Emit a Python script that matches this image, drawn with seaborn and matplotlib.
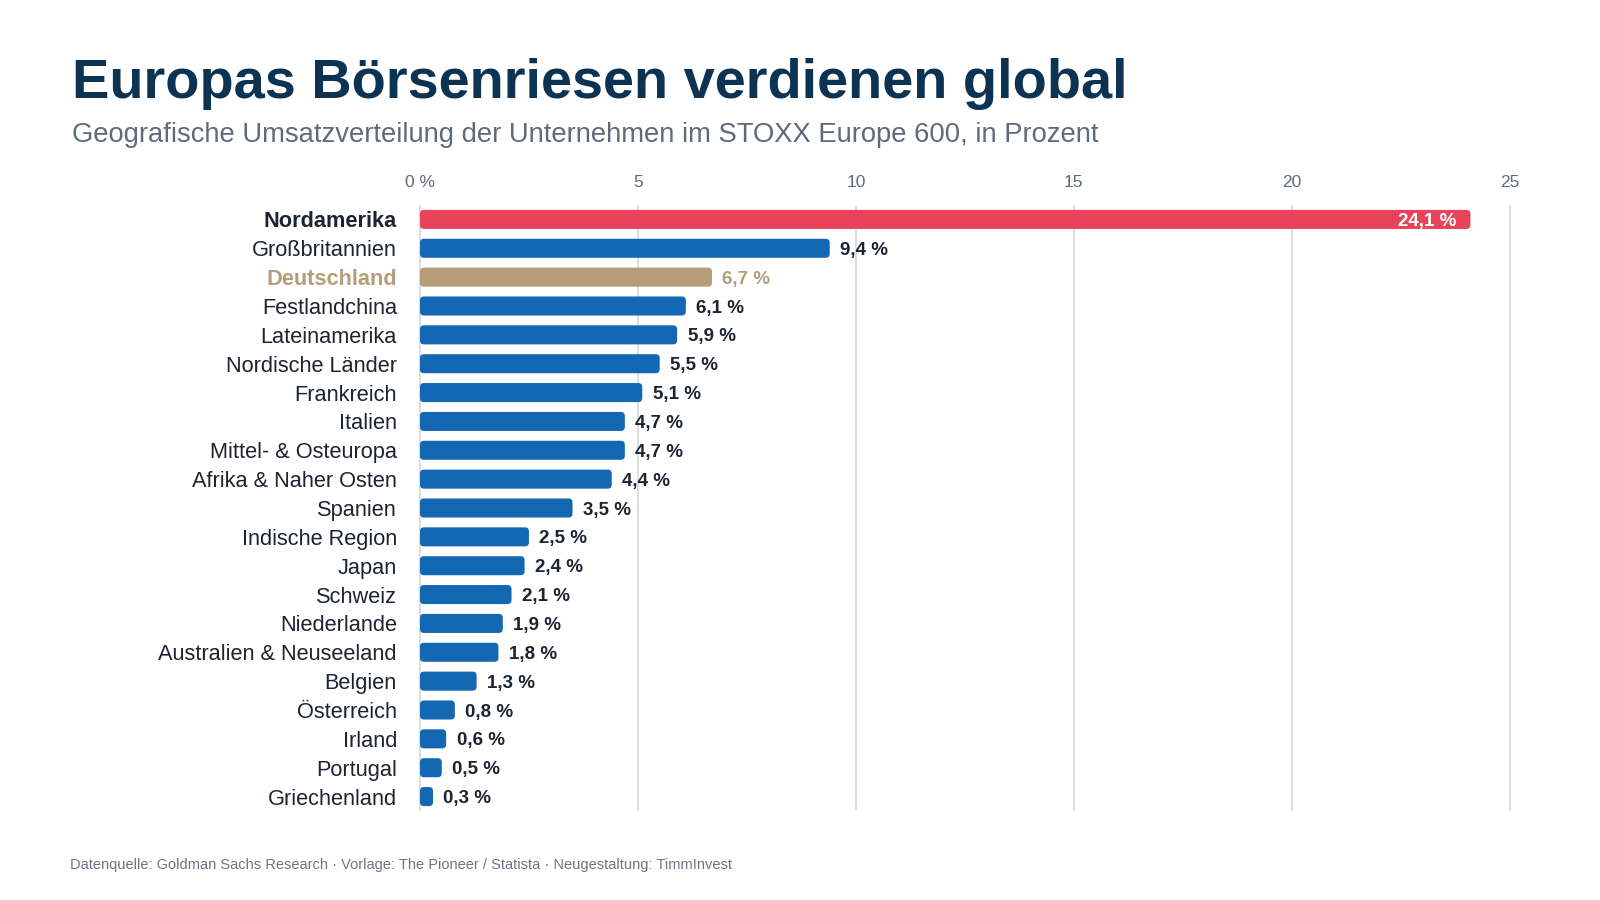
import matplotlib
matplotlib.use("Agg")
import matplotlib.pyplot as plt
from matplotlib.patches import FancyBboxPatch
import seaborn as sns
import pandas as pd

regions = ["Nordamerika", "Großbritannien", "Deutschland", "Festlandchina", "Lateinamerika",
           "Nordische Länder", "Frankreich", "Italien", "Mittel- & Osteuropa", "Afrika & Naher Osten",
           "Spanien", "Indische Region", "Japan", "Schweiz", "Niederlande",
           "Australien & Neuseeland", "Belgien", "Österreich", "Irland", "Portugal", "Griechenland"]
shares = [24.1, 9.4, 6.7, 6.1, 5.9, 5.5, 5.1, 4.7, 4.7, 4.4, 3.5, 2.5, 2.4, 2.1, 1.9, 1.8, 1.3, 0.8, 0.6, 0.5, 0.3]
ticks = [0, 5, 10, 15, 20, 25]
tick_labels = ["0 %", "5", "10", "15", "20", "25"]

RED = "#e8435a"
BLUE = "#1467b2"
TAN = "#b59d79"
NAVY = "#0d3352"
GREY = "#5f6b7a"
DARK = "#1b2430"

colors = [RED if r == "Nordamerika" else TAN if r == "Deutschland" else BLUE for r in regions]

df = pd.DataFrame({"region": regions, "share": shares})

sns.set_theme(style="white")
plt.rcParams["font.family"] = ["Liberation Sans", "DejaVu Sans"]

fig = plt.figure(figsize=(16, 9), dpi=100)
ax = fig.add_axes([417.8 / 1600, 1 - 811 / 900, (1514 - 417.8) / 1600, (811 - 205) / 900])

sns.barplot(data=df, y="region", x="share", hue="region", palette=colors,
            legend=False, orient="h", width=0.66, ax=ax, saturation=1)

# swap the square bars for rounded ones
px_x = 43.6
px_y = 28.8
r = 4 / px_x
aspect = px_x / px_y
for p in list(ax.patches):
    x0, y0 = p.get_x(), p.get_y()
    w, h = p.get_width(), p.get_height()
    fc = p.get_facecolor()
    p.set_visible(False)
    rb = FancyBboxPatch((x0, y0), w, h, boxstyle=f"round,pad=0,rounding_size={r}",
                        mutation_aspect=aspect, facecolor=fc, edgecolor="none", zorder=3)
    ax.add_patch(rb)

ax.set_xlim(-0.05, 25.1)
ax.set_ylim(len(regions) - 0.5, -0.5)
ax.set_xticks(ticks)
ax.set_xticklabels(tick_labels)
ax.xaxis.tick_top()
ax.tick_params(axis="x", length=0, pad=11, labelsize=12.5, labelcolor=GREY)
ax.tick_params(axis="y", length=0, pad=15, labelsize=15.7, labelcolor=DARK)
ax.grid(axis="x", color="#d5dbe2", linewidth=1.3, zorder=0)
ax.set_axisbelow(True)
for s in ax.spines.values():
    s.set_visible(False)
ax.set_xlabel("")
ax.set_ylabel("")

for lab in ax.get_yticklabels():
    if lab.get_text() == "Nordamerika":
        lab.set_fontweight("bold")
    elif lab.get_text() == "Deutschland":
        lab.set_fontweight("bold")
        lab.set_color(TAN)

for i, (reg, v) in enumerate(zip(regions, shares)):
    txt = f"{v:.1f} %".replace(".", ",")
    if reg == "Nordamerika":
        ax.annotate(txt, (v, i), xytext=(-10, 0), textcoords="offset points",
                    ha="right", va="center_baseline", color="white", fontsize=13.5, fontweight="bold")
    else:
        ax.annotate(txt, (v, i), xytext=(7.5, 0), textcoords="offset points",
                    ha="left", va="center_baseline", fontsize=13.5, fontweight="bold",
                    color=TAN if reg == "Deutschland" else DARK)

fig.text(72 / 1600, 1 - 98 / 900, "Europas Börsenriesen verdienen global",
         fontsize=40.3, fontweight="bold", color=NAVY, ha="left", va="baseline")
fig.text(72 / 1600, 1 - 142 / 900,
         "Geografische Umsatzverteilung der Unternehmen im STOXX Europe 600, in Prozent",
         fontsize=19.7, color=GREY, ha="left", va="baseline")
fig.text(70 / 1600, 1 - 869 / 900,
         "Datenquelle: Goldman Sachs Research · Vorlage: The Pioneer / Statista · Neugestaltung: TimmInvest",
         fontsize=10.5, color="#6b7684", ha="left", va="baseline")

fig.savefig("out.png", dpi=100, facecolor="white")
